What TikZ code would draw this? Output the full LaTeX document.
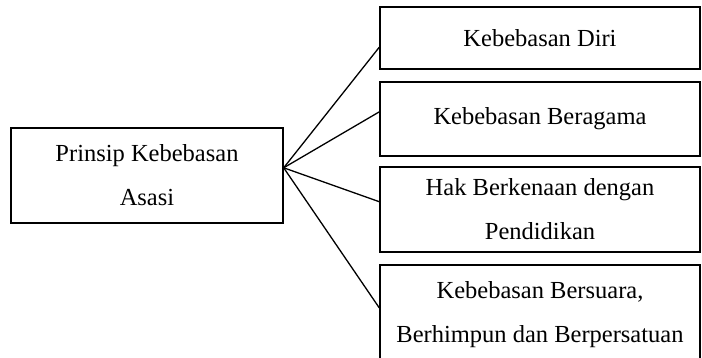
\documentclass[tikz,border=0pt]{standalone}
\usepackage{fontspec}
\setmainfont{Liberation Serif}
\usepackage{tikz}
\usetikzlibrary{calc}

\tikzset{
    kotak/.style={draw, line width=1.4pt, align=center, inner sep=0pt,
        font=\fontsize{24.5}{44}\selectfont},
    garis/.style={line width=1.3pt}
}

\begin{document}
\begin{tikzpicture}[x=1pt, y=-1pt]
    \useasboundingbox (0,0) rectangle (702,358);
    % Main principle
    \node[kotak, minimum width=272pt, minimum height=95pt] (asas) at (147,175.5) {Prinsip Kebebasan\\Asasi};

    % Freedoms
    \node[kotak, minimum width=320pt, minimum height=62pt] (diri) at (540,38) {Kebebasan Diri};
    \node[kotak, minimum width=320pt, minimum height=74pt] (agama) at (540,119) {Kebebasan Beragama};
    \node[kotak, minimum width=320pt, minimum height=85pt] (didik) at (540,209.5) {Hak Berkenaan dengan\\Pendidikan};
    \node[kotak, minimum width=320pt, minimum height=100pt] (suara) at (540,315) {Kebebasan Bersuara,\\Berhimpun dan Berpersatuan};

    % Connectors
    \coordinate (hub) at ($(asas.north east)!0.42!(asas.south east)$);
    \draw[garis] (hub) -- ($(diri.north west)!0.645!(diri.south west)$);
    \draw[garis] (hub) -- ($(agama.north west)!0.405!(agama.south west)$);
    \draw[garis] (hub) -- ($(didik.north west)!0.41!(didik.south west)$);
    \draw[garis] (hub) -- ($(suara.north west)!0.43!(suara.south west)$);
\end{tikzpicture}
\end{document}
